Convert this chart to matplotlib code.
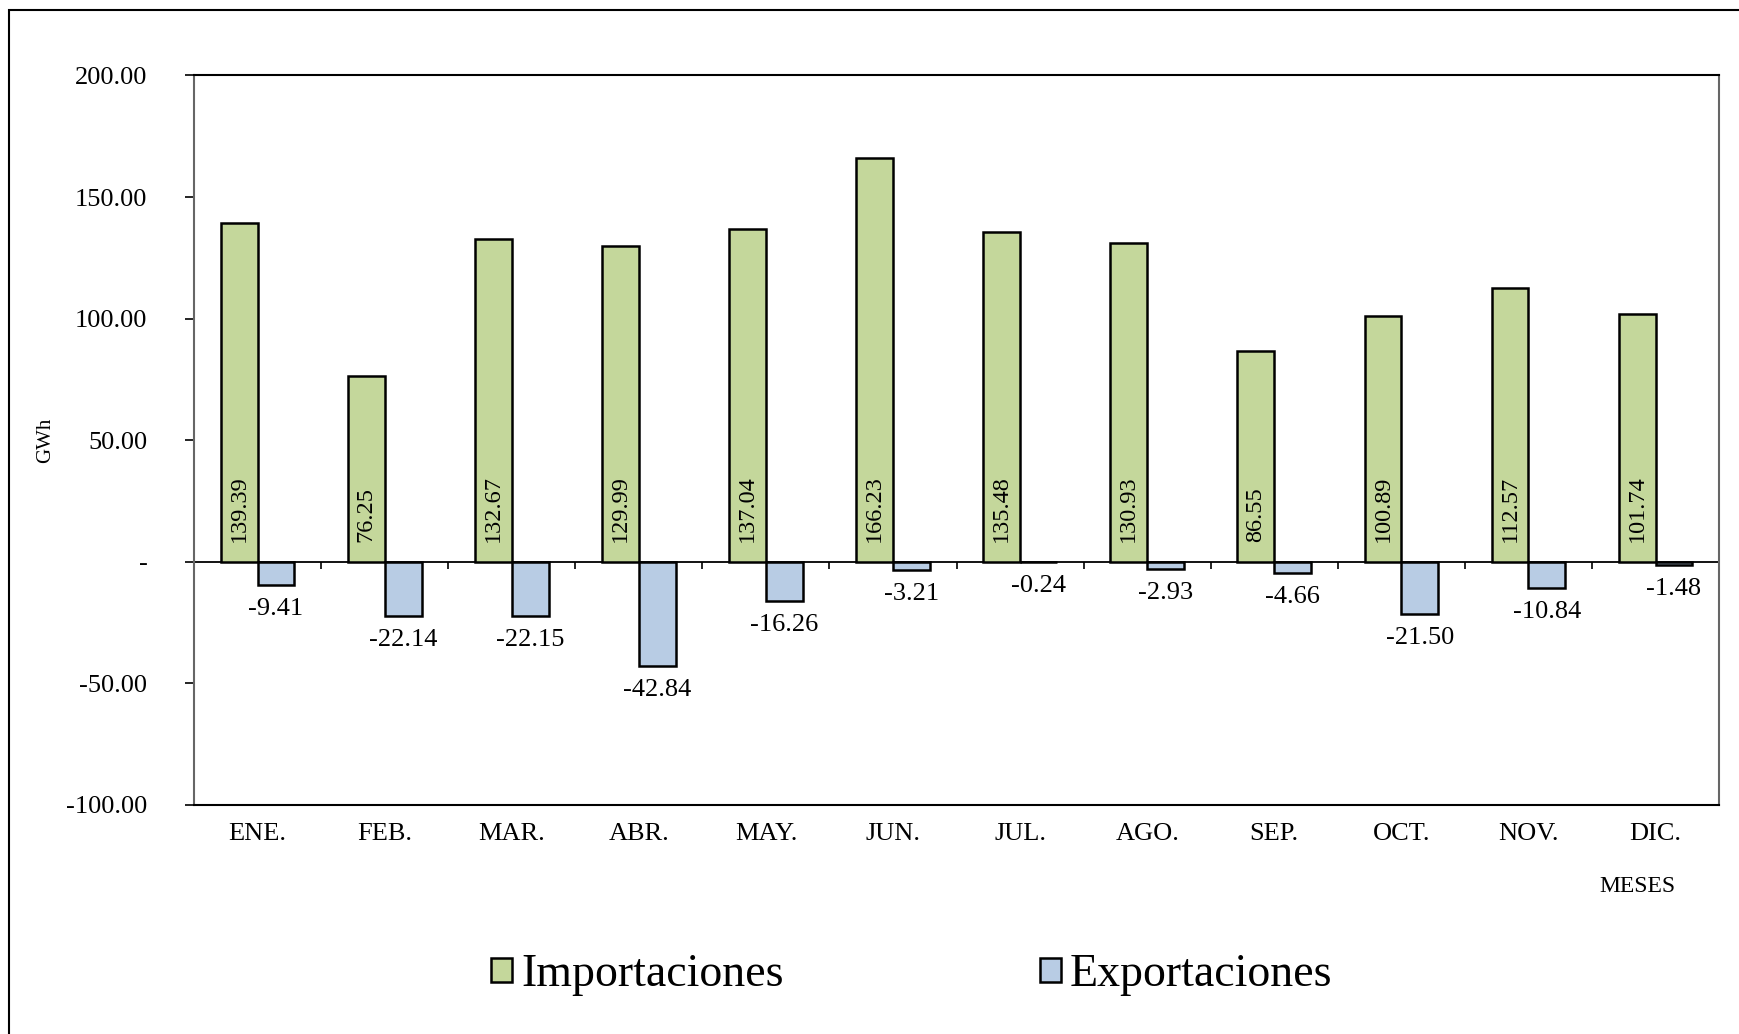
import matplotlib
matplotlib.use("Agg")
import matplotlib.pyplot as plt
import numpy as np
from matplotlib.patches import Rectangle

meses = ["ENE.", "FEB.", "MAR.", "ABR.", "MAY.", "JUN.",
         "JUL.", "AGO.", "SEP.", "OCT.", "NOV.", "DIC."]
importaciones = [139.39, 76.25, 132.67, 129.99, 137.04, 166.23,
                 135.48, 130.93, 86.55, 100.89, 112.57, 101.74]
exportaciones = [-9.41, -22.14, -22.15, -42.84, -16.26, -3.21,
                 -0.24, -2.93, -4.66, -21.50, -10.84, -1.48]
yticks = [-100, -50, 0, 50, 100, 150, 200]
yticklabels = ["-100.00", "-50.00", "-", "50.00", "100.00", "150.00", "200.00"]

plt.rcParams['font.family'] = ['Liberation Serif', 'DejaVu Serif']

fig = plt.figure(figsize=(17.4, 10.34), dpi=100)
ax = fig.add_axes([0.1115, 0.2215, 0.988 - 0.1115, 0.927 - 0.2215])

# outer chart frame (only left/top visible in the original)
fig.patches.append(Rectangle((9 / 1740, -0.1), 1.2, 1 - 10 / 1034 + 0.1,
                             transform=fig.transFigure, fill=False,
                             edgecolor='black', linewidth=1.5))

x = np.arange(len(meses))
w = 0.29
b1 = ax.bar(x - w / 2, importaciones, w, color='#C4D79B', edgecolor='black', linewidth=1.8)
b2 = ax.bar(x + w / 2, exportaciones, w, color='#B8CCE4', edgecolor='black', linewidth=1.8)

for xi, v in zip(x, importaciones):
    ax.annotate(f"{v:.2f}", (xi - w / 2, 0), xytext=(0, 20), textcoords='offset pixels',
                rotation=90, ha='center', va='bottom', fontsize=17.5)
for xi, v in zip(x, exportaciones):
    ax.annotate(f"{v:.2f}", (xi + w / 2, v), xytext=(0, -24), textcoords='offset pixels',
                ha='center', va='center', fontsize=19)

ax.set_xlim(-0.5, 11.5)
ax.set_ylim(-100, 200)
ax.set_yticks(yticks)
ax.set_yticklabels(yticklabels, fontsize=19)
ax.set_xticks(x)
ax.set_xticklabels(meses, fontsize=19)
ax.tick_params(axis='x', length=0, pad=13)
ax.tick_params(axis='y', length=6.5, width=1.2, pad=27)

for s in ['left', 'right']:
    ax.spines[s].set_color('#666666')
    ax.spines[s].set_linewidth(1.5)
ax.spines['top'].set_linewidth(1.5)
ax.spines['bottom'].set_linewidth(1.5)

# zero line with category separators
sec = ax.secondary_xaxis(0, transform=ax.transData)
sec.set_xticks(np.arange(len(meses) - 1) + 0.5)
sec.set_xticklabels([])
sec.tick_params(length=5, width=1.2, direction='out')
sec.spines['bottom'].set_linewidth(1.3)

ax.set_ylabel("GWh", fontsize=15)
ax.yaxis.set_label_coords(-0.091, 0.5)
fig.text(1637 / 1740, 1 - 886 / 1034, "MESES", fontsize=17, ha='center', va='center')

fig.legend([b1, b2], ["Importaciones", "Exportaciones"], loc='center',
           bbox_to_anchor=(0.524, 1 - 975 / 1034), ncol=2, frameon=False,
           fontsize=33, handlelength=0.45, handleheight=0.45, handletextpad=0.2,
           columnspacing=5.6)

fig.savefig("out.png", dpi=100)
